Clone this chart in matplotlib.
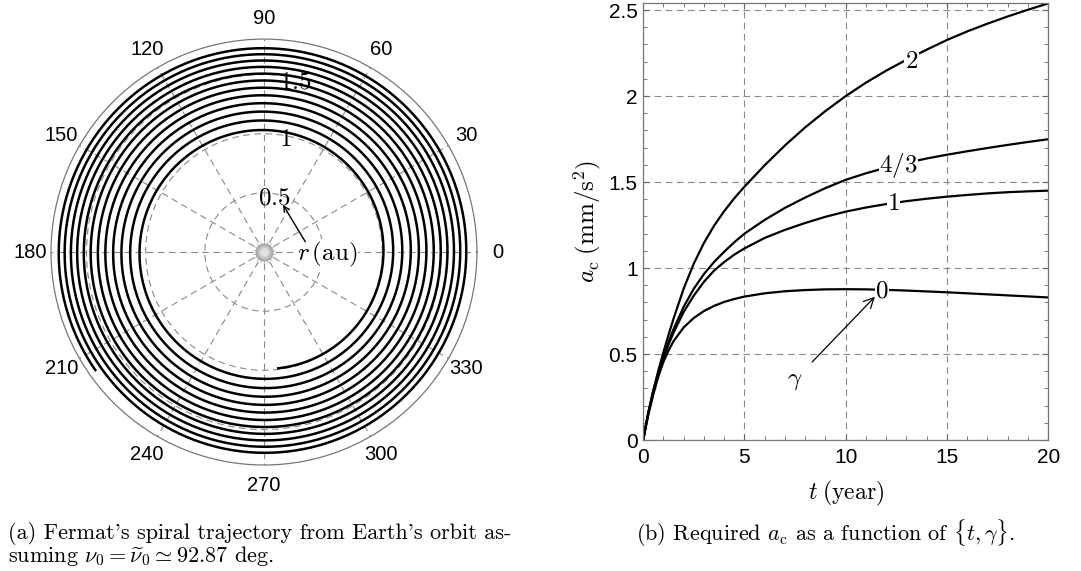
import numpy as np
import matplotlib.pyplot as plt
from matplotlib.ticker import MultipleLocator, FuncFormatter

plt.rcParams['mathtext.fontset'] = 'cm'
plt.rcParams['font.family'] = ['Liberation Sans', 'DejaVu Sans']

# left panel: spiral read at quarter turns (angle in deg, unwrapped; radius in au)
spiral_theta_deg = [277, 360, 450, 540, 630, 720, 810, 900, 990, 1080, 1170, 1260,
                    1350, 1440, 1530, 1620, 1710, 1800, 1890, 1980, 2070, 2160,
                    2250, 2340, 2430, 2520, 2610, 2700, 2790, 2880, 2970, 3060,
                    3150, 3240, 3330, 3420, 3510, 3600, 3690, 3780, 3870, 3960,
                    4050, 4140, 4230, 4320, 4410, 4500, 4535]
spiral_r = [0.990, 1.010, 1.031, 1.052, 1.072, 1.092, 1.112, 1.131, 1.150, 1.169,
            1.187, 1.205, 1.223, 1.241, 1.258, 1.275, 1.292, 1.309, 1.325, 1.341,
            1.357, 1.373, 1.389, 1.404, 1.420, 1.435, 1.450, 1.465, 1.479, 1.494,
            1.508, 1.523, 1.537, 1.551, 1.565, 1.579, 1.592, 1.606, 1.619, 1.632,
            1.646, 1.659, 1.672, 1.685, 1.697, 1.710, 1.723, 1.735, 1.740]
r_ticks = [0.5, 1, 1.5]
r_tick_labels = ['0.5', '1', '1.5']
theta_ticks = list(range(0, 360, 30))

# right panel: required a_c (mm/s^2) vs t (year) for several gamma
t_year = [0, 0.1, 0.25, 0.5, 0.75, 1, 1.25, 1.5, 2, 2.5, 3, 3.5, 4, 4.5, 5,
          6, 7, 8, 9, 10, 11, 12, 13, 14, 15, 16, 17, 18, 19, 20]
ac_g0 = [0, 0.06, 0.145, 0.265, 0.37, 0.455, 0.52, 0.575, 0.655, 0.71, 0.75, 0.78,
         0.803, 0.82, 0.834, 0.853, 0.865, 0.872, 0.876, 0.877, 0.876, 0.873, 0.869,
         0.864, 0.859, 0.853, 0.847, 0.841, 0.835, 0.829]
ac_g1 = [0, 0.065, 0.155, 0.28, 0.385, 0.475, 0.555, 0.625, 0.745, 0.84, 0.92, 0.985,
         1.035, 1.078, 1.114, 1.175, 1.222, 1.262, 1.298, 1.328, 1.352, 1.372, 1.389,
         1.403, 1.415, 1.425, 1.434, 1.441, 1.446, 1.450]
ac_g43 = [0, 0.065, 0.155, 0.285, 0.39, 0.485, 0.57, 0.645, 0.775, 0.88, 0.965, 1.035,
          1.095, 1.15, 1.20, 1.28, 1.35, 1.41, 1.465, 1.513, 1.551, 1.584, 1.612,
          1.637, 1.659, 1.679, 1.698, 1.716, 1.733, 1.749]
ac_g2 = [0, 0.065, 0.16, 0.29, 0.405, 0.511, 0.611, 0.706, 0.881, 1.026, 1.146, 1.246,
         1.331, 1.406, 1.473, 1.598, 1.713, 1.818, 1.913, 2.0, 2.078, 2.148, 2.211,
         2.270, 2.326, 2.376, 2.421, 2.463, 2.502, 2.539]
curve_labels = ['0', '1', '4/3', '2']
label_t = [11.8, 12.35, 12.6, 13.25]
label_ac = [0.872, 1.378, 1.597, 2.205]

fig = plt.figure(figsize=(10.81, 5.71), dpi=100)

# ---- polar panel
axp = fig.add_axes([0.0472, 0.1856, 0.394, 0.746], projection='polar')
line, = axp.plot(np.radians(spiral_theta_deg), spiral_r, color='black', lw=1.8, zorder=3)
line.get_path()._interpolation_steps = 40  # draw segments as spiral arcs
axp.set_ylim(0, 1.8)
axp.set_yticks(r_ticks)
axp.set_yticklabels([])
axp.set_xticks(np.radians(theta_ticks))
axp.set_xticklabels([str(a) for a in theta_ticks], fontsize=14.5)
axp.grid(True, color='#8a8a8a', lw=0.8, linestyle=(0, (6, 4)))
axp.spines['polar'].set_color('#777777')
axp.spines['polar'].set_linewidth(0.9)
axp.tick_params(axis='x', direction='in', length=5, color='#777777', pad=8)
for rv, lab in zip(r_ticks, r_tick_labels):
    axp.text(np.radians(79.5), rv - 0.03, '$' + lab + '$', fontsize=18,
             ha='center', va='center', zorder=5)

# sun at the centre
axp.scatter([0], [0], s=330, marker=(18, 1, 0), color='#b4b4b4', zorder=4, linewidths=0)
axp.scatter([0], [0], s=170, color='#a8a8a8', zorder=4, linewidths=0)
axp.scatter([0], [0], s=100, color='#c4c4c4', zorder=4, linewidths=0)
axp.scatter([0], [0], s=40, color='#e2e2e2', zorder=4, linewidths=0)

axp.text(np.radians(-2), 0.53, r'$r\,(\mathrm{au})$', fontsize=18, ha='center', va='center',
         zorder=5, bbox=dict(fc='white', ec='none', pad=0.5))
axp.annotate('', xy=(np.radians(68), 0.43), xytext=(np.radians(14), 0.36),
             arrowprops=dict(arrowstyle='->', lw=1.0, color='black',
                             shrinkA=0, shrinkB=0), zorder=5)

# ---- a_c panel
ax = fig.add_axes([0.595, 0.2294, 0.3747, 0.765])
for vals in [ac_g0, ac_g1, ac_g43, ac_g2]:
    ax.plot(t_year, vals, color='black', lw=1.6)
ax.set_xlim(0, 20)
ax.set_ylim(0, 2.54)
ax.xaxis.set_major_locator(MultipleLocator(5))
ax.xaxis.set_minor_locator(MultipleLocator(1))
ax.yaxis.set_major_locator(MultipleLocator(0.5))
ax.yaxis.set_minor_locator(MultipleLocator(0.1))
ax.yaxis.set_major_formatter(FuncFormatter(lambda v, p: '%g' % v))
ax.tick_params(which='both', direction='in', top=True, right=True, color='#666666',
               labelsize=15)
ax.tick_params(axis='x', which='major', pad=6)
ax.tick_params(axis='y', which='major', pad=4)
ax.tick_params(which='major', length=4)
ax.tick_params(which='minor', length=3)
ax.grid(True, which='major', color='#8a8a8a', lw=0.8, linestyle=(0, (6, 4)))
for s in ax.spines.values():
    s.set_color('#777777')
    s.set_linewidth(0.9)
ax.set_xlabel(r'$t\;(\mathrm{year})$', fontsize=17, labelpad=8)
ax.set_ylabel(r'$a_{\mathrm{c}}\;(\mathrm{mm/s^2})$', fontsize=18, labelpad=4)

for lab, tx, ty in zip(curve_labels, label_t, label_ac):
    ax.text(tx, ty, '$' + lab + '$', fontsize=18, ha='center', va='center',
            bbox=dict(fc='white', ec='none', pad=0.3))
ax.annotate(r'$\gamma$', xy=(11.44, 0.833), xytext=(7.49, 0.349), fontsize=18,
            ha='center', va='center',
            arrowprops=dict(arrowstyle='->', lw=0.9, color='black', shrinkA=7, shrinkB=0))

# ---- captions
fig.text(0.0074, 0.066, "(a) Fermat's spiral trajectory from Earth's orbit as-",
         family='cmr10', fontsize=16, va='center')
fig.text(0.0074, 0.026, r"suming $\nu_0 = \widetilde{\nu}_0 \simeq 92.87$ deg.",
         family='cmr10', fontsize=16, va='center')
fig.text(0.588, 0.066, r"(b) Required $a_{\mathrm{c}}$ as a function of $\{t, \gamma\}$.",
         family='cmr10', fontsize=16, va='center')

fig.savefig('out.png', dpi=100)
